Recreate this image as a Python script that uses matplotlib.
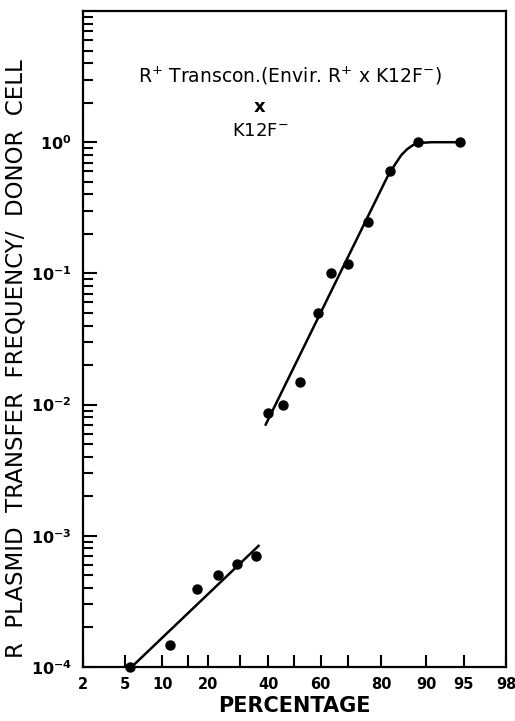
from statistics import NormalDist

import matplotlib
matplotlib.use("Agg")
import matplotlib.pyplot as plt
import numpy as np
from matplotlib.ticker import FixedLocator, FixedFormatter, LogLocator, NullFormatter, NullLocator

# data (x in percent, y = transfer frequency per donor cell)
low_pct = [5.5, 11.4, 17.1, 23.0, 29.0, 35.4]
low_freq = [1.0e-4, 1.47e-4, 3.9e-4, 5.0e-4, 6.1e-4, 7.0e-4]
low_fit_pct = [5.7, 36.7]
low_fit_freq = [1.0e-4, 8.5e-4]

high_pct = [39.9, 45.6, 52.1, 59.0, 64.0, 69.8, 76.2, 82.3, 88.5, 94.6]
high_freq = [8.7e-3, 1.0e-2, 1.48e-2, 5.0e-2, 0.101, 0.117, 0.246, 0.60, 1.0, 1.0]
high_fit_pct = [38.8, 81.6, 83.6, 85.0, 86.3, 87.5, 89.1, 90.9, 94.6]
high_fit_freq = [6.9e-3, 0.541, 0.68, 0.796, 0.885, 0.95, 0.99, 1.0, 1.0]

xtick_major = [2, 5, 10, 15, 20, 30, 40, 50, 60, 70, 80, 90, 95, 98]
xtick_labels = ["2", "5", "10", "", "20", "", "40", "", "60", "", "80", "90", "95", "98"]
ytick_major = [1e-4, 1e-3, 1e-2, 1e-1, 1e0]
ytick_labels = [r"$\mathbf{10^{-4}}$", r"$\mathbf{10^{-3}}$", r"$\mathbf{10^{-2}}$",
                r"$\mathbf{10^{-1}}$", r"$\mathbf{10^{0}}$"]

_nd = NormalDist()
_ppf = np.vectorize(_nd.inv_cdf, otypes=[float])
_cdf = np.vectorize(_nd.cdf, otypes=[float])


def probit(x):
    p = np.clip(np.asarray(x, float) / 100.0, 1e-7, 1 - 1e-7)
    return _ppf(p)


def probit_inv(z):
    return _cdf(np.asarray(z, float)) * 100.0


plt.rcParams["font.family"] = ["DejaVu Sans"]
plt.rcParams["mathtext.default"] = "regular"

fig = plt.figure(figsize=(5.15, 7.21), dpi=100)
ax = fig.add_axes([0.161, 0.075, 0.8215, 0.9097])
ax.set_xscale("function", functions=(probit, probit_inv))
ax.set_yscale("log")
ax.set_xlim(2, 98)
ax.set_ylim(1e-4, 10)

ax.plot(low_fit_pct, low_fit_freq, color="black", lw=1.8, solid_capstyle="butt")
ax.plot(high_fit_pct, high_fit_freq, color="black", lw=1.8, solid_capstyle="butt")
ax.plot(low_pct, low_freq, "o", color="black", ms=6.5, clip_on=False)
ax.plot(high_pct, high_freq, "o", color="black", ms=6.5, clip_on=False)

ax.xaxis.set_major_locator(FixedLocator(xtick_major))
ax.xaxis.set_major_formatter(FixedFormatter(xtick_labels))
ax.xaxis.set_minor_locator(NullLocator())
ax.yaxis.set_major_locator(FixedLocator(ytick_major))
ax.yaxis.set_major_formatter(FixedFormatter(ytick_labels))
ax.yaxis.set_minor_locator(LogLocator(base=10, subs=np.arange(2, 10), numticks=20))
ax.yaxis.set_minor_formatter(NullFormatter())

ax.tick_params(axis="x", which="major", direction="in", length=9, width=1.5,
               pad=7, labelsize=10.5, top=False)
ax.tick_params(axis="y", which="major", direction="in", length=10, width=1.5,
               pad=8, labelsize=11.5, right=False)
ax.tick_params(axis="y", which="minor", direction="in", length=7, width=1.5, right=False)
for lab in ax.get_xticklabels():
    lab.set_fontweight("bold")
for sp in ax.spines.values():
    sp.set_linewidth(1.6)

ax.set_xlabel("PERCENTAGE", fontsize=15, fontweight="bold", labelpad=3)
ax.set_ylabel("R  PLASMID  TRANSFER  FREQUENCY/  DONOR  CELL", fontsize=16.5)
ax.yaxis.set_label_coords(-0.132, 0.47)

ax.text(0.489, 0.901, r"R$^{+}$ Transcon.(Envir. R$^{+}$ x K12F$^{-}$)",
        transform=ax.transAxes, ha="center", va="center", fontsize=13.5)
ax.text(0.418, 0.853, "x", transform=ax.transAxes, ha="center", va="center",
        fontsize=13, fontweight="bold")
ax.text(0.42, 0.817, r"K12F$^{-}$", transform=ax.transAxes, ha="center", va="center",
        fontsize=13)

fig.savefig("out.png", dpi=100)
